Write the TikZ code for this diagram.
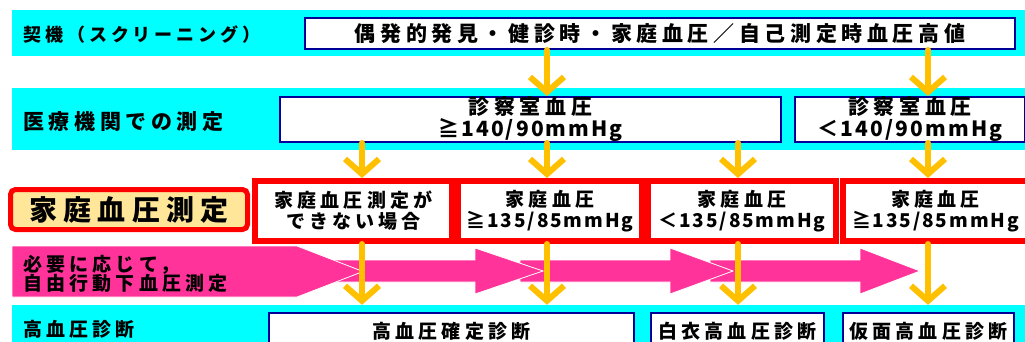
\documentclass[tikz,border=0pt]{standalone}
\usepackage{fontspec}
\setmainfont{Noto Sans CJK JP}[LetterSpace=22]
\newfontfamily\bpfont{Noto Sans CJK JP}[LetterSpace=10]
\newcommand{\bpval}[1]{{\bpfont\bfseries #1}}
\definecolor{bandcolor}{HTML}{00FFFF}
\definecolor{navycolor}{HTML}{000099}
\definecolor{flowcolor}{HTML}{FFC000}
\definecolor{abpmcolor}{HTML}{FF3399}
\definecolor{hbpmcolor}{HTML}{FFE699}
\usepackage{tikz}
\usetikzlibrary{arrows.meta}

\begin{document}
\begin{tikzpicture}[x=1pt, y=-1pt]
    \tikzset{%
        band/.style={fill=bandcolor, inner sep=0pt, minimum width=1013pt},
        bandtext/.style={anchor=west, align=left, inner sep=0pt, font=\fontsize{#1pt}{19.5pt}\selectfont\bfseries},
        navybox/.style={draw=navycolor, line width=2pt, fill=white, inner sep=0pt, align=center, font=\fontsize{#1pt}{22pt}\selectfont\bfseries},
        redbox/.style={draw=red, line width=6pt, fill=white, inner sep=0pt, align=center, minimum height=60pt, font=\fontsize{19pt}{21pt}\selectfont\bfseries},
        flow/.style={flowcolor, line width=6pt, line cap=round, -{Straight Barb[length=15pt, width=34pt]}},
        pics/abpm/.style args={#1/#2/#3}{code={%
                        \fill [abpmcolor, draw=white, line width=0.8pt] (#1, 260) -- (#2, 260) -- (#2, 248) -- (#3, 271) -- (#2, 294) -- (#2, 282) -- (#1, 282) -- cycle;
                    }
            }
    }

    \useasboundingbox (0, 0) rectangle (1025, 342);

    \node [band, minimum height=46pt] (screenband) at (518.5, 33) {};
    \node [band, minimum height=62pt] (clinicband) at (518.5, 119) {};
    \node [band, minimum height=50pt] (diagband) at (518.5, 330) {};

    \node [bandtext=18] (screenlabel) at (23, 35) {契機（スクリーニング）};
    \node [bandtext=21] (cliniclabel) at (23, 121.5) {医療機関での測定};
    \node [bandtext=19] (diaglabel) at (23, 329.5) {高血圧診断};

    \node [navybox=21, minimum width=710pt, minimum height=31pt] (finding) at (660, 33.5) {偶発的発見・健診時・家庭血圧／自己測定時血圧高値};
    \node [navybox=21, minimum width=501pt, minimum height=45pt] (clinichigh) at (530.5, 119.5) {診察室血圧\\\bpval{≧140/90mmHg}};
    \node [navybox=21, minimum width=230pt, minimum height=45pt] (cliniclow) at (910, 119.5) {診察室血圧\\\bpval{＜140/90mmHg}};

    \node [draw=red, line width=5pt, rounded corners=5pt, fill=hbpmcolor, minimum width=237pt, minimum height=40pt, inner sep=0pt, font=\fontsize{28pt}{28pt}\selectfont\bfseries] (hbpmlabel) at (129, 209.5) {家庭血圧測定};
    \node [redbox, minimum width=197pt] (homeunable) at (353.5, 211) {家庭血圧測定が\\できない場合};
    \node [redbox, minimum width=184pt] (homehigh) at (550, 211) {家庭血圧\\\bpval{≧135/85mmHg}};
    \node [redbox, minimum width=188pt] (homelow) at (742, 211) {家庭血圧\\\bpval{＜135/85mmHg}};
    \node [redbox, minimum width=185pt] (homemasked) at (935.5, 211) {家庭血圧\\\bpval{≧135/85mmHg}};

    \node [navybox=19, anchor=north, minimum width=365pt, minimum height=36pt] (confirmed) at (451.5, 312) {高血圧確定診断};
    \node [navybox=19, anchor=north, minimum width=173pt, minimum height=36pt] (whitecoat) at (737.5, 312) {白衣高血圧診断};
    \node [navybox=19, anchor=north, minimum width=171pt, minimum height=36pt] (masked) at (928.5, 312) {仮面高血圧診断};

    % shaft start/head start/tip
    \pic at (0, 0) {abpm=710/860/920};
    \pic at (0, 0) {abpm=520/670/733};
    \pic at (0, 0) {abpm=330/475/543};
    \fill [abpmcolor, draw=white, line width=0.8pt] (12, 246) -- (297, 246) -- (363, 271.5) -- (297, 297) -- (12, 297) -- cycle;
    \node [bandtext=19] (abpmlabel) at (23, 274) {必要に応じて，\\自由行動下血圧測定};

    \coordinate (col1) at (362, 0);
    \coordinate (col2) at (547, 0);
    \coordinate (col3) at (738, 0);
    \coordinate (col4) at (928, 0);

    \draw [flow] (finding.south -| col2) -- (clinichigh.north -| col2);
    \draw [flow] (finding.south -| col4) -- (cliniclow.north -| col4);

    \draw [flow] (clinichigh.south -| col1) -- (homeunable.north -| col1);
    \draw [flow] (clinichigh.south -| col2) -- (homehigh.north -| col2);
    \draw [flow] (clinichigh.south -| col3) -- (homelow.north -| col3);
    \draw [flow] (cliniclow.south -| col4) -- (homemasked.north -| col4);

    \draw [flow] (homeunable.south -| col1) -- (diagband.north -| col1);
    \draw [flow] (homehigh.south -| col2) -- (diagband.north -| col2);
    \draw [flow] (homelow.south -| col3) -- (diagband.north -| col3);
    \draw [flow] (homemasked.south -| col4) -- (diagband.north -| col4);
\end{tikzpicture}
\end{document}
